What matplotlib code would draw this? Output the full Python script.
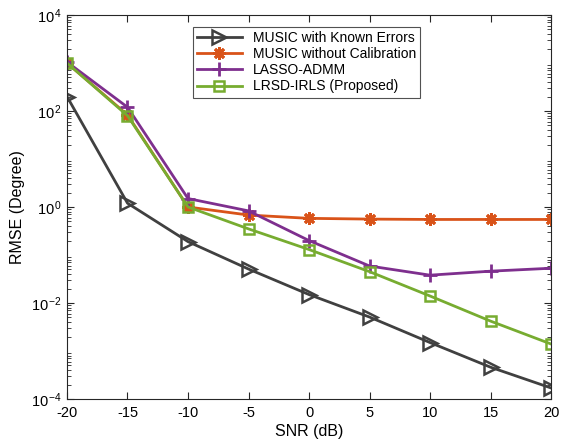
import numpy as np
import matplotlib
matplotlib.use('Agg')
import matplotlib.pyplot as plt
from matplotlib.ticker import LogLocator, NullFormatter, FixedLocator, FixedFormatter

plt.rcParams['font.family'] = ['Liberation Sans', 'DejaVu Sans']
plt.rcParams['mathtext.fontset'] = 'custom'
plt.rcParams['mathtext.rm'] = 'Liberation Sans'
plt.rcParams['mathtext.it'] = 'Liberation Sans'
plt.rcParams['axes.unicode_minus'] = False

snr = [-20, -15, -10, -5, 0, 5, 10, 15, 20]
music_known = [200, 1.2, 0.19, 0.051, 0.015, 0.0051, 0.0015, 4.6e-4, 1.7e-4]
music_nocal = [1000, 83, 1.0, 0.68, 0.58, 0.56, 0.55, 0.55, 0.55]
lasso_admm = [1050, 120, 1.5, 0.83, 0.2, 0.059, 0.038, 0.046, 0.053]
lrsd_irls = [1000, 80, 1.0, 0.35, 0.13, 0.045, 0.014, 0.0042, 0.0014]
ytick_vals = [1e-4, 1e-2, 1e0, 1e2, 1e4]
ytick_labels = [r'$10^{\,\mathregular{-4}}$', r'$10^{\,\mathregular{-2}}$', r'$10^{\,\mathregular{0}}$',
                r'$10^{\,\mathregular{2}}$', r'$10^{\,\mathregular{4}}$']

fig = plt.figure(figsize=(5.61, 4.45), dpi=100)
ax = fig.add_axes([67/561, 1-399/445, (551-67)/561, (399-15)/445])

ax.semilogy(snr, music_known, color='#404040', lw=2, marker='>', ms=9.5,
            mfc='none', mew=1.8, label='MUSIC with Known Errors')
ax.semilogy(snr, music_nocal, color='#D95319', lw=2, marker=(8, 2, 0), ms=9,
            mew=2, label='MUSIC without Calibration')
ax.semilogy(snr, lasso_admm, color='#7E2F8E', lw=2, marker='+', ms=10,
            mew=2, label='LASSO-ADMM')
ax.semilogy(snr, lrsd_irls, color='#77AC30', lw=2, marker='s', ms=7,
            mfc='none', mew=1.8, label='LRSD-IRLS (Proposed)')

ax.set_xlim(-20, 20)
ax.set_ylim(1e-4, 1e4)
ax.set_xticks(snr)
ax.set_xticklabels([str(v) for v in snr])
ax.yaxis.set_major_locator(FixedLocator(ytick_vals))
ax.yaxis.set_major_formatter(FixedFormatter(ytick_labels))
ax.yaxis.set_minor_locator(LogLocator(base=10, subs=np.arange(2, 10), numticks=20))
ax.yaxis.set_minor_formatter(NullFormatter())
ax.tick_params(which='both', direction='in', top=True, right=True, labelsize=10.5, color='#262626')
ax.tick_params(axis='x', pad=5)
ax.tick_params(which='major', length=5)
ax.tick_params(which='minor', length=3)
for s in ax.spines.values():
    s.set_color('#262626')
    s.set_linewidth(0.8)

ax.set_xlabel('SNR (dB)', fontsize=11.5, labelpad=3)
ax.set_ylabel('RMSE (Degree)', fontsize=11.5)

leg = ax.legend(loc='upper left', bbox_to_anchor=((193-67)/484, 1-(27-15)/384),
                fontsize=10, frameon=True, fancybox=False, edgecolor='#262626',
                borderpad=0.3, labelspacing=0.15, handlelength=3.2, borderaxespad=0)
leg.get_frame().set_linewidth(0.8)

fig.savefig('out.png', dpi=100)
